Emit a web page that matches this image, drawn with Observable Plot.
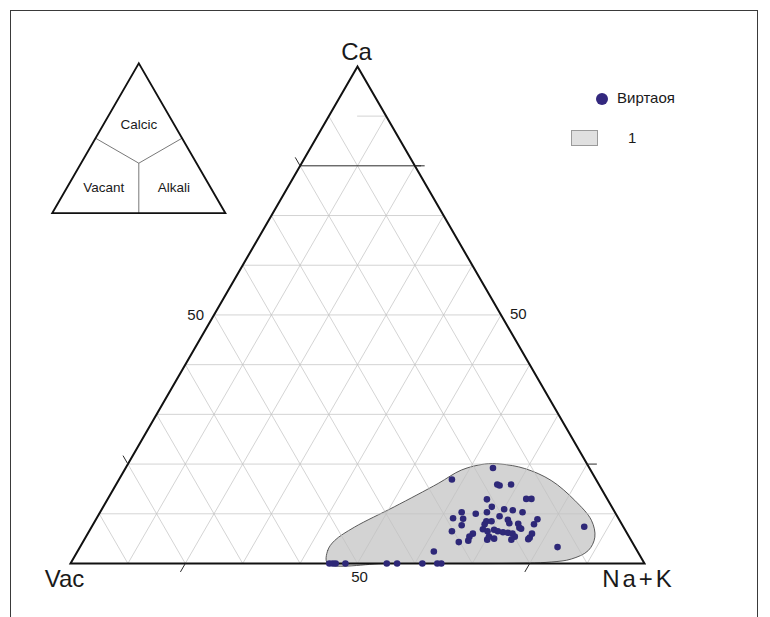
<!DOCTYPE html>
<html>
<head>
<meta charset="utf-8">
<script src="https://cdn.jsdelivr.net/npm/d3@7"></script>
<script src="https://cdn.jsdelivr.net/npm/@observablehq/plot@0.6"></script>
<style>
  body { margin: 0; background: #fff; font-family: "Liberation Sans", Arial, sans-serif; }
  #wrap { position: relative; width: 770px; height: 617px; overflow: hidden; background: #fff; }
  #wrap svg { position: absolute; overflow: visible; }
  #frame { position: absolute; left: 10px; top: 10px; width: 748px; height: 640px;
           border: 1px solid #3a3a3a; border-bottom: none; box-sizing: border-box; }
  .legend-item { position: absolute; font-size: 15px; line-height: 16px; color: #1a1a1a; }
  .swatch-dot { position: absolute; width: 12px; height: 12px; border-radius: 50%; background: #33287e; }
  .swatch-box { position: absolute; width: 27px; height: 16px; background: #e0e0e0; border: 1px solid #9a9a9a; box-sizing: border-box; }
</style>
</head>
<body>
<div id="wrap">
  <div id="frame"></div>
</div>
<script>
// Cation site composition (%): Ca, Na+K; vacancy is the remainder.
const sampleCa = [
  19.2, 16.9, 15.9, 15.7, 15.9, 12.9, 13.0, 13.0, 11.4, 10.3,
  10.3, 10.9, 10.7, 10.3, 10.0, 9.5, 9.1, 9.0, 8.8, 8.9,
  8.5, 8.5, 8.1, 8.0, 7.9, 7.4, 7.7, 7.2, 7.0, 6.9,
  6.8, 6.5, 6.5, 6.5, 6.3, 6.2, 6.0, 6.0, 6.0, 5.4,
  5.4, 5.2, 4.9, 4.8, 5.0, 4.8, 4.3, 4.6, 3.3, 2.4,
  7.9, 5.4,
  0, 0, 0, 0, 0, 0, 0, 0, 0
];
const sampleNaK = [
  64.0, 58.0, 66.4, 66.9, 68.8, 66.1, 72.9, 73.8, 67.7, 63.0,
  67.4, 70.1, 71.7, 73.6, 65.6, 70.0, 62.1, 63.9, 71.8, 76.9,
  68.2, 69.1, 72.4, 74.0, 76.8, 85.8, 64.3, 74.6, 75.0, 68.4,
  70.4, 63.2, 69.4, 71.2, 72.2, 73.1, 74.0, 77.4, 67.1, 66.8,
  74.7, 77.4, 77.3, 70.2, 71.3, 74.4, 65.5, 67.0, 83.2, 62.1,
  68.2, 70.2,
  45.1, 45.7, 46.2, 47.9, 55.1, 56.9, 61.3, 63.9, 64.6
];

// Outline of field "1" (Ca, Na+K %), traced clockwise from the Vac side of the base.
const fieldCa  = [0, 2.6, 4.6, 7.3, 11.4, 16.1, 18.8, 20.0, 20.0, 19.1, 16.7, 12.7, 8.7, 5.3, 2.6, 0.9, 0.3, 0, 0, 0];
const fieldNaK = [44.8, 43.5, 43.7, 45.8, 50.7, 56.0, 58.7, 62.1, 65.0, 69.6, 75.4, 81.5, 86.4, 88.7, 88.9, 86.8, 83.6, 75, 65, 55];

const gridSteps = [10, 20, 30, 40, 50, 60, 70, 80, 90];
const tickSteps = [20, 80];
const accentRow = 80;          // Ca row drawn in dark ink
const shortRow = 90;           // Ca row drawn from the centre line only
const midLabel = "50";
const vertexLabels = ["Ca", "Vac", "Na+K"];
const insetLabels = ["Calcic", "Vacant", "Alkali"];
const legendLabels = ["Виртаоя", "1"];

const FONT = '"Liberation Sans", Arial, sans-serif';
const H = Math.sqrt(3) / 2;
// ternary (Ca, Na+K) -> unit triangle with Vac at origin, Na+K at (1,0), Ca at apex
const tern = (ca, nak) => ({ u: (nak + ca / 2) / 100, v: ca * H / 100 });
const seg = (id, a, b) => [{ id, ...tern(...a) }, { id, ...tern(...b) }];

// grid rows
const gridRows = [];
for (const k of gridSteps) {
  if (k !== accentRow) gridRows.push(...seg("ca" + k, [k, k === shortRow ? 5 : 0], [k, 100 - k]));
  gridRows.push(...seg("nak" + k, [0, k], [100 - k, k]));
  gridRows.push(...seg("vac" + k, [0, 100 - k], [100 - k, 0]));
}
const accentRows = seg("accent", [accentRow, 0], [accentRow, 100 - accentRow + 1]);

const t = 1.7;
const ticks = [];
for (const k of tickSteps) {
  ticks.push({ a: tern(k, 0), b: tern(k + t, -t) });          // Ca–Vac side
  ticks.push({ a: tern(k, 100 - k), b: tern(k, 100 - k + t) }); // Ca–Na+K side
  ticks.push({ a: tern(0, k), b: tern(-t, k) });              // base
}

const edges = [tern(0, 0), tern(0, 100), tern(100, 0)];
const field = fieldCa.map((c, i) => tern(c, fieldNaK[i]));
const samples = sampleCa.map((c, i) => tern(c, sampleNaK[i]));

const vertexText = (p, label, dx, dy) =>
  Plot.text([p], { x: "u", y: "v", text: () => label, dx, dy, fontSize: 24, lineAnchor: "top", fill: "#1a1a1a" });
const midText = (p, opts) =>
  Plot.text([p], { x: "u", y: "v", text: () => midLabel, fontSize: 15, fill: "#1a1a1a", ...opts });

// main diagram: side 574 px, Vac corner at (70, 563)
const W = 770, HT = 617, side = 574, ox = 70, oy = 563;
const main = Plot.plot({
  width: W, height: HT, margin: 0,
  style: { fontFamily: FONT, background: "transparent" },
  x: { domain: [-ox / side, (W - ox) / side], axis: null },
  y: { domain: [(oy - HT) / side, oy / side], axis: null },
  marks: [
    Plot.line(field, { x: "u", y: "v", curve: "catmull-rom-closed", fill: "#d3d3d3", stroke: "#4a4a4a", strokeWidth: 0.9 }),
    Plot.line(gridRows, { x: "u", y: "v", z: "id", stroke: "#c2c2c2", strokeWidth: 0.7 }),
    Plot.line(accentRows, { x: "u", y: "v", stroke: "#2a2a2a", strokeWidth: 1 }),
    Plot.line(edges, { x: "u", y: "v", curve: "linear-closed", stroke: "#111", strokeWidth: 2, strokeLinejoin: "miter", strokeMiterlimit: 10 }),
    Plot.link(ticks, { x1: d => d.a.u, y1: d => d.a.v, x2: d => d.b.u, y2: d => d.b.v, stroke: "#2a2a2a", strokeWidth: 1 }),
    Plot.dot(samples, { x: "u", y: "v", r: 3.3, fill: "#2e2878", stroke: "none" }),
    vertexText(tern(100, 0), vertexLabels[0], -1, -23),
    vertexText(tern(0, 0), vertexLabels[1], -6, 6),
    vertexText(tern(0, 100), vertexLabels[2], -6, 6),
    midText(tern(50, 0), { textAnchor: "end", dx: -10, lineAnchor: "middle" }),
    midText(tern(50, 50), { textAnchor: "start", dx: 9, dy: -1, lineAnchor: "middle" }),
    midText(tern(0, 50), { dx: 2, dy: 8, lineAnchor: "top" })
  ]
});
main.style.left = "0px";
main.style.top = "0px";
d3.select(main).selectAll("text").filter(function () { return this.textContent === vertexLabels[2]; })
  .attr("letter-spacing", 3);

// inset: site-dominance fields meeting at the centroid
const insetEdges = [tern(0, 0), tern(0, 100), tern(100, 0)];
const c3 = 100 / 3;
const insetDividers = [
  { a: tern(c3, c3), b: tern(50, 0) },
  { a: tern(c3, c3), b: tern(50, 50) },
  { a: tern(c3, c3), b: tern(0, 50) }
];
const insetText = [
  { ...tern(59, 20.5), label: insetLabels[0] },
  { ...tern(17.3, 21.1), label: insetLabels[1] },
  { ...tern(17.3, 61.6), label: insetLabels[2] }
];
const iw = 200, ih = 175, iside = 173.2, iox = 11.7, ioy = 162.7;
const inset = Plot.plot({
  width: iw, height: ih, margin: 0,
  style: { fontFamily: FONT, background: "transparent" },
  x: { domain: [-iox / iside, (iw - iox) / iside], axis: null },
  y: { domain: [(ioy - ih) / iside, ioy / iside], axis: null },
  marks: [
    Plot.link(insetDividers, { x1: d => d.a.u, y1: d => d.a.v, x2: d => d.b.u, y2: d => d.b.v, stroke: "#555", strokeWidth: 0.8 }),
    Plot.line(insetEdges, { x: "u", y: "v", curve: "linear-closed", stroke: "#111", strokeWidth: 1.8, strokeLinejoin: "miter", strokeMiterlimit: 10 }),
    Plot.text(insetText, { x: "u", y: "v", text: "label", fontSize: 13.5, lineAnchor: "middle", fill: "#1a1a1a" })
  ]
});
inset.style.left = "40px";
inset.style.top = "50px";

const wrap = document.getElementById("wrap");
wrap.appendChild(main);
wrap.appendChild(inset);

// legend
const leg = d3.select(wrap);
leg.append("div").attr("class", "swatch-dot").style("left", "596px").style("top", "93px");
leg.append("div").attr("class", "legend-item").style("left", "617px").style("top", "90px").text(legendLabels[0]);
leg.append("div").attr("class", "swatch-box").style("left", "571px").style("top", "130px");
leg.append("div").attr("class", "legend-item").style("left", "628px").style("top", "130px").text(legendLabels[1]);
</script>
</body>
</html>
